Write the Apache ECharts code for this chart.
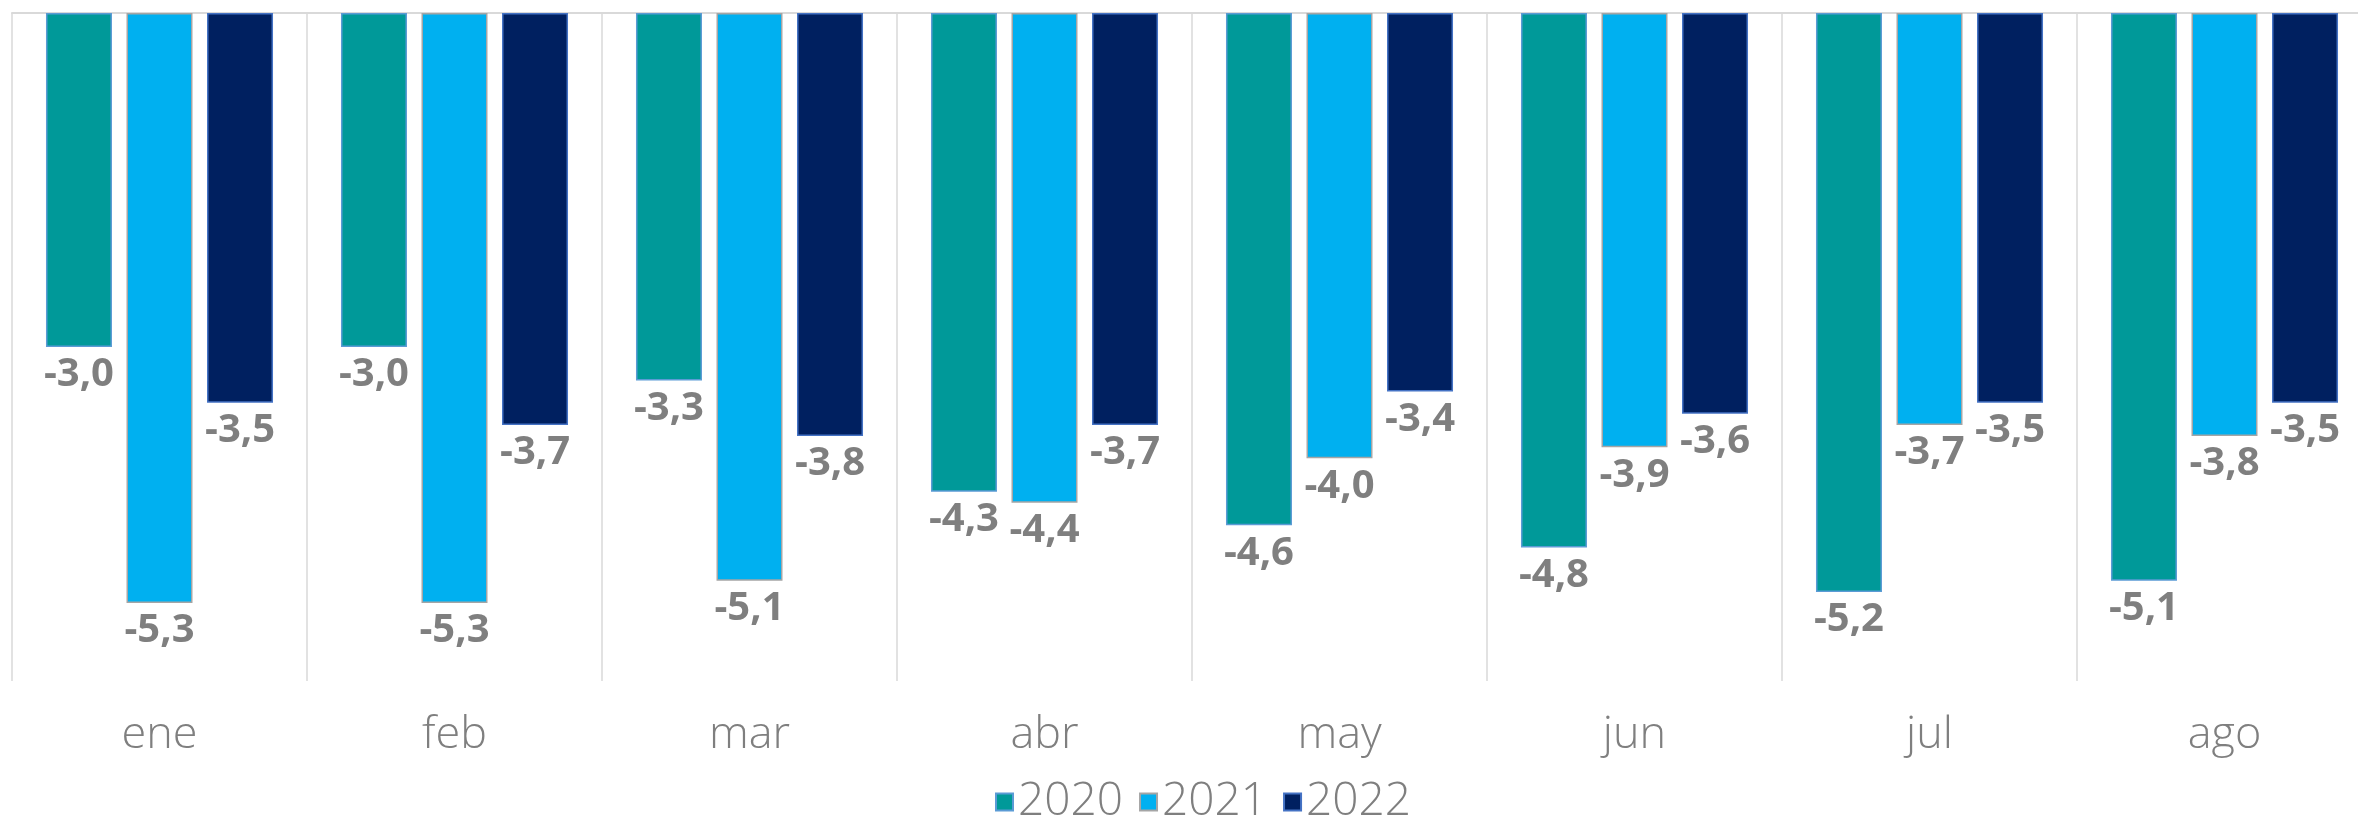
<!DOCTYPE html>
<html>
<head>
<meta charset="utf-8">
<style>
  html, body { margin: 0; padding: 0; background: #fff; }
  #chart { width: 2358px; height: 816px; }
</style>
<script src="https://cdn.jsdelivr.net/npm/echarts@6/dist/echarts.min.js"></script>
</head>
<body>
<div id="chart"></div>
<script>
  // meses
  var months = ['ene', 'feb', 'mar', 'abr', 'may', 'jun', 'jul', 'ago'];
  var years = ['2020', '2021', '2022'];
  // valores por año
  var v2020 = [-3.0, -3.0, -3.3, -4.3, -4.6, -4.8, -5.2, -5.1];
  var v2021 = [-5.3, -5.3, -5.1, -4.4, -4.0, -3.9, -3.7, -3.8];
  var v2022 = [-3.5, -3.7, -3.8, -3.7, -3.4, -3.6, -3.5, -3.5];

  var colors = ['#009999', '#00b0f0', '#002060'];
  var borders = ['#5b9bd5', '#a5a5a5', '#4472c4'];
  var font = '"Open Sans", Lato, sans-serif';

  function makeSeries(name, data, i) {
    return {
      name: name,
      type: 'bar',
      data: data,
      barWidth: 66,
      barGap: '22%',
      itemStyle: { color: colors[i], borderColor: borders[i], borderWidth: 1.5 },
      label: {
        show: true,
        position: 'bottom',
        distance: 8,
        color: '#7f7f7f',
        fontWeight: 'bold',
        fontSize: 40,
        fontFamily: font,
        formatter: function (p) { return p.value.toFixed(1).replace('.', ','); }
      }
    };
  }

  var chart = echarts.init(document.getElementById('chart'));
  chart.setOption({
    animation: false,
    backgroundColor: '#fff',
    grid: { left: 12, right: -14, top: 13, bottom: 135, outerBoundsMode: 'none' },
    legend: {
      data: years,
      top: 774,
      left: 990,
      itemWidth: 17,
      itemHeight: 17,
      itemGap: 16,
      icon: 'rect',
      textStyle: { color: '#7f7f7f', fontSize: 46, fontWeight: 300, fontFamily: font, padding: [0, 0, 0, 0] }
    },
    xAxis: [{
      type: 'category',
      data: months,
      position: 'bottom',
      axisLine: { show: false, onZero: false },
      axisTick: { show: false },
      splitLine: { show: true, lineStyle: { color: '#d9d9d9', width: 1.5 } },
      axisLabel: { color: '#7f7f7f', fontSize: 45, fontWeight: 300, fontFamily: font, margin: 32 }
    }, {
      type: 'category',
      data: months,
      position: 'top',
      axisLine: { show: true, onZero: false, lineStyle: { color: '#d9d9d9', width: 2 } },
      axisTick: { show: false },
      axisLabel: { show: false }
    }],
    yAxis: {
      type: 'value',
      min: -6,
      max: 0,
      interval: 1,
      show: false,
      splitLine: { show: false }
    },
    series: [
      makeSeries(years[0], v2020, 0),
      makeSeries(years[1], v2021, 1),
      makeSeries(years[2], v2022, 2)
    ]
  });
</script>
</body>
</html>
